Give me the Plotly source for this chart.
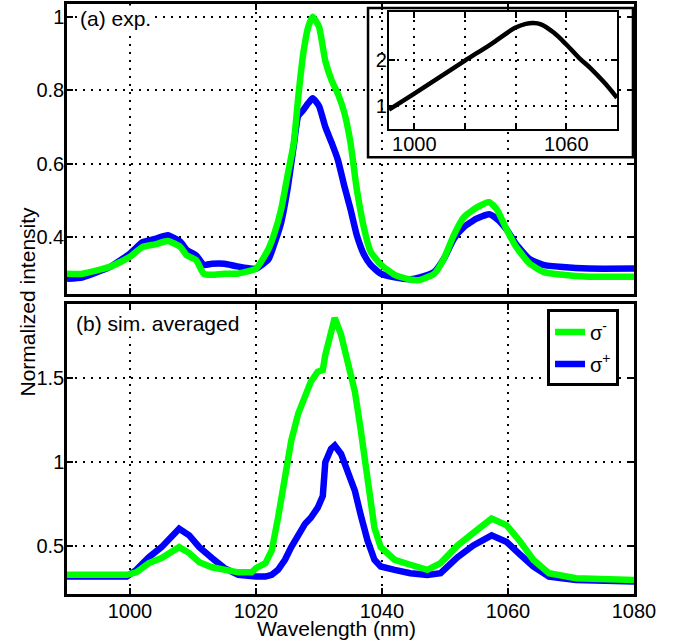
import plotly.graph_objects as go

# (a) experimental spectra
x_exp = [990, 992.5, 997, 1000, 1002, 1004, 1006, 1008, 1009, 1010.5, 1011.7, 1013, 1015, 1017,
         1020, 1022, 1023, 1024, 1025, 1026, 1026.7, 1027.5, 1028.3, 1029, 1030, 1031, 1032,
         1033, 1034, 1035, 1036, 1037.2, 1038.2, 1039.8, 1042, 1044.5, 1046, 1048.3, 1049.8,
         1051.4, 1053, 1055, 1057, 1058.2, 1059.8, 1061.3, 1063.4, 1065.6, 1068.7, 1072.8, 1080]
exp_minus = [0.30, 0.30, 0.32, 0.346, 0.373, 0.38, 0.389, 0.373, 0.35, 0.337, 0.30, 0.297, 0.30, 0.30,
             0.314, 0.368, 0.414, 0.476, 0.567, 0.657, 0.78, 0.90, 0.973, 1.0, 0.973, 0.88, 0.827,
             0.79, 0.74, 0.657, 0.53, 0.42, 0.36, 0.325, 0.297, 0.284, 0.283, 0.30, 0.34,
             0.405, 0.454, 0.48, 0.495, 0.476, 0.42, 0.373, 0.328, 0.305, 0.297, 0.292, 0.292]
exp_plus = [0.286, 0.29, 0.32, 0.355, 0.386, 0.395, 0.405, 0.387, 0.365, 0.35, 0.324, 0.327, 0.327, 0.32,
            0.314, 0.34, 0.386, 0.44, 0.53, 0.65, 0.73, 0.746, 0.765, 0.778, 0.757, 0.70, 0.657,
            0.61, 0.54, 0.476, 0.405, 0.35, 0.324, 0.30, 0.29, 0.285, 0.29, 0.305, 0.34,
            0.395, 0.427, 0.45, 0.462, 0.45, 0.42, 0.38, 0.34, 0.324, 0.318, 0.314, 0.314]

# (b) simulated, averaged
x_sim = [990, 999.5, 1001, 1003, 1005, 1007.8, 1009.4, 1011, 1013, 1015, 1017.2, 1019.3, 1020,
         1021.5, 1022.5, 1023.5, 1024.6, 1025.6, 1026.7, 1027.8, 1028.7, 1029.8, 1030.6, 1031,
         1031.9, 1032.5, 1033.5, 1034.6, 1035.7, 1036.6, 1037.7, 1038.8, 1039.8, 1042, 1044.5,
         1047.2, 1049.3, 1052, 1054.5, 1057.4, 1059.8, 1061.8, 1064, 1066.5, 1070.8, 1080]
sim_minus = [0.33, 0.33, 0.345, 0.40, 0.43, 0.495, 0.46, 0.405, 0.375, 0.36, 0.345, 0.345, 0.37,
             0.40, 0.475, 0.67, 0.91, 1.13, 1.29, 1.40, 1.48, 1.54, 1.55, 1.64,
             1.76, 1.86, 1.76, 1.60, 1.42, 1.20, 0.87, 0.61, 0.495, 0.42, 0.39,
             0.36, 0.40, 0.505, 0.58, 0.665, 0.625, 0.535, 0.42, 0.34, 0.31, 0.30]
sim_plus = [0.32, 0.32, 0.36, 0.435, 0.495, 0.605, 0.565, 0.495, 0.43, 0.37, 0.33, 0.32, 0.32,
            0.32, 0.33, 0.36, 0.42, 0.495, 0.575, 0.635, 0.67, 0.73, 0.80, 1.0,
            1.08, 1.10, 1.05, 0.95, 0.83, 0.69, 0.535, 0.42, 0.38, 0.36, 0.34,
            0.33, 0.34, 0.435, 0.505, 0.565, 0.525, 0.455, 0.38, 0.32, 0.30, 0.29]

# inset curve
x_inset = [990, 1000, 1010, 1020, 1030, 1040, 1044, 1047, 1050, 1055, 1060, 1065, 1070, 1075, 1080]
y_inset = [0.91, 1.26, 1.62, 1.98, 2.33, 2.70, 2.78, 2.80, 2.77, 2.59, 2.33, 2.04, 1.79, 1.50, 1.17]

GREEN = '#00ff00'
BLUE = '#0000ff'
FONT = 'Liberation Sans, Arial, sans-serif'

fig = go.Figure()

# blue first so green lies on top, like the original
fig.add_trace(go.Scatter(x=x_exp, y=exp_plus, mode='lines', line=dict(color=BLUE, width=6.5, shape='spline', smoothing=0.5),
                         showlegend=False, xaxis='x', yaxis='y'))
fig.add_trace(go.Scatter(x=x_exp, y=exp_minus, mode='lines', line=dict(color=GREEN, width=6.5, shape='spline', smoothing=0.5),
                         showlegend=False, xaxis='x', yaxis='y'))
fig.add_trace(go.Scatter(x=x_sim, y=sim_plus, mode='lines', line=dict(color=BLUE, width=6.5),
                         name='σ<sup>+</sup>', legendrank=2, legendgroup='p', xaxis='x2', yaxis='y2'))
fig.add_trace(go.Scatter(x=x_sim, y=sim_minus, mode='lines', line=dict(color=GREEN, width=6.5),
                         name='σ<sup>-</sup>', legendrank=1, legendgroup='m', xaxis='x2', yaxis='y2'))
fig.add_trace(go.Scatter(x=x_inset, y=y_inset, mode='lines', line=dict(color='black', width=4.5, shape='spline'),
                         showlegend=False, xaxis='x3', yaxis='y3'))

axis_style = dict(showline=True, linecolor='black', linewidth=2.5, mirror='ticks',
                  ticks='inside', ticklen=6, tickwidth=2, tickcolor='black',
                  showgrid=True, gridcolor='black', gridwidth=2, griddash='2px,6px',
                  zeroline=False, tickfont=dict(family=FONT, size=20, color='black'))

fig.update_layout(
    width=683, height=642,
    margin=dict(l=67, r=49, t=1, b=48),
    paper_bgcolor='white', plot_bgcolor='white',
    font=dict(family=FONT, size=20, color='black'),
    xaxis=dict(axis_style, domain=[0, 1], range=[990, 1080], anchor='y',
               tickvals=[1000, 1020, 1040, 1060], showticklabels=False),
    yaxis=dict(axis_style, domain=[0.5093, 1], range=[0.246, 1.035], anchor='x',
               tickvals=[0.4, 0.6, 0.8, 1], ticktext=['0.4', '0.6', '0.8', '1'], ticklabelstandoff=-4),
    xaxis2=dict(axis_style, domain=[0, 1], range=[990, 1080], anchor='y2',
                tickvals=[1000, 1020, 1040, 1060, 1080], ticklabelstandoff=-3),
    yaxis2=dict(axis_style, domain=[0, 0.4907], range=[0.216, 1.94], anchor='x2',
                tickvals=[0.5, 1, 1.5], ticktext=['0.5', '1', '1.5'], ticklabelstandoff=-4),
    xaxis3=dict(axis_style, linewidth=2, domain=[0.5679, 0.970], range=[990, 1080], anchor='y3',
                tickvals=[1000, 1020, 1040, 1060], ticktext=['1000', '', '', '1060'], ticklabelstandoff=-4),
    yaxis3=dict(axis_style, linewidth=2, domain=[0.7875, 0.9865], range=[0.48, 3.04], anchor='x3',
                tickvals=[1, 2], ticklabelstandoff=-4),
    legend=dict(x=0.8466, y=0.4823, xanchor='left', yanchor='top',
                bgcolor='white', bordercolor='black', borderwidth=3,
                traceorder='grouped', tracegroupgap=3, itemwidth=30, entrywidth=44,
                font=dict(family=FONT, size=20, color='black')),
    shapes=[dict(type='rect', xref='x3 domain', yref='y3 domain',
                 x0=-0.092, x1=1.07, y0=-0.237, y1=1.034,
                 fillcolor='white', line=dict(color='black', width=2.5), layer='below')],
    annotations=[
        dict(text='(a) exp.', xref='paper', yref='paper', x=0.0194, y=0.976,
             xanchor='left', yanchor='middle', showarrow=False, bgcolor='white',
             font=dict(family=FONT, size=21, color='black')),
        dict(text='(b) sim. averaged', xref='paper', yref='paper', x=0.0123, y=0.4587,
             xanchor='left', yanchor='middle', showarrow=False, bgcolor='white',
             font=dict(family=FONT, size=21, color='black')),
        dict(text='Wavelength (nm)', xref='paper', yref='paper', x=0.476, y=-0.058,
             xanchor='center', yanchor='middle', showarrow=False,
             font=dict(family=FONT, size=21, color='black')),
        dict(text='Normalized intensity', xref='paper', yref='paper', x=-0.0705, y=0.4958,
             xanchor='center', yanchor='middle', textangle=-90, showarrow=False,
             font=dict(family=FONT, size=21, color='black')),
    ],
)

# the page body has an 8px default margin; drop it so the figure sits at the corner
fig.write_html("out.html", config={'displayModeBar': False},
               post_script="document.body.style.margin='0';")
